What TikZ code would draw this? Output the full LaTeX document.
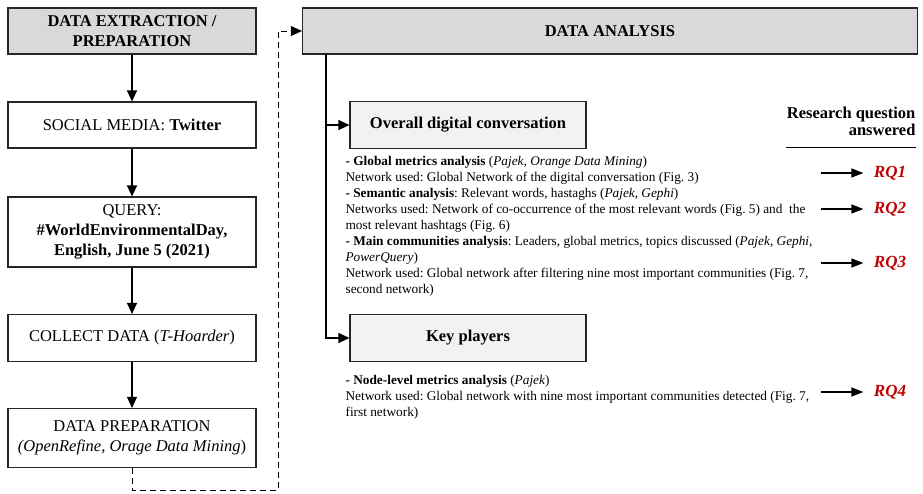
\documentclass[tikz,border=0pt]{standalone}
\usepackage{fontspec}
\setmainfont{Liberation Serif}
\usetikzlibrary{arrows.meta}
\definecolor{headgray}{HTML}{D9D9D9}
\definecolor{subgray}{HTML}{F2F2F2}
\definecolor{rqred}{HTML}{C00000}
\frenchspacing
\begin{document}
\begin{tikzpicture}[x=1pt,y=-1pt,line width=1.15pt,
  box/.style={draw=black!85,minimum width=248pt,align=center,inner sep=0pt,
    font=\fontsize{16.5}{20}\selectfont},
  headbox/.style={box,fill=headgray,font=\fontsize{16.5}{20}\selectfont\bfseries},
  subbox/.style={box,fill=subgray,minimum width=236pt,minimum height=47pt,
    font=\fontsize{16.5}{20}\selectfont\bfseries},
  bodytext/.style={anchor=north west,align=left,inner sep=0pt,
    font=\fontsize{13.3}{16}\selectfont},
  rq/.style={inner ysep=0pt,inner xsep=10pt,text=rqred,
    font=\fontsize{17}{20}\selectfont\bfseries\itshape},
  arr/.style={-{Triangle[length=11pt,width=10pt]}},
  rqarr/.style={line width=1.4pt,-{Triangle[length=12pt,width=9pt]}}]
\useasboundingbox (0,0) rectangle (923,493);
% left column
\path (132,31) node[headbox,minimum height=46pt](prep){DATA EXTRACTION /\\PREPARATION}
      (132,125) node[box,minimum height=46pt](social){SOCIAL MEDIA: \textbf{Twitter}}
      (132,232) node[box,minimum height=70pt](query){QUERY:\\\textbf{\#WorldEnvironmentalDay,}\\\textbf{English, June 5 (2021)}}
      (132,338) node[box,minimum height=47pt](collect){COLLECT DATA (\textit{T-Hoarder})}
      (132,438) node[box,minimum height=59pt](dataprep){DATA PREPARATION\\\textit{(OpenRefine, Orage Data Mining})};
\draw[arr] (prep) -- (social);
\draw[arr] (social) -- (query);
\draw[arr] (query) -- (collect);
\draw[arr] (collect) -- (dataprep);
% right column
\path (610,31) node[headbox,minimum width=615pt,minimum height=46pt](analysis){DATA ANALYSIS}
      (468,125) node[subbox](overall){Overall digital conversation}
      (468,338) node[subbox](keyplay){Key players};
\coordinate (turn) at (278,490);
\draw[arr,line width=1pt,dashed,dash pattern=on 6pt off 4pt] (dataprep.south) |- (turn) |- (analysis.west);
\coordinate (trunk) at (326,54);
\draw[arr] (trunk) |- (overall.west);
\draw[arr] (trunk) |- (keyplay.west);
% descriptions
\node[bodytext] (overtext) at (345,156) {\textbf{- Global metrics analysis} (\textit{Pajek, Orange Data Mining})\\
Network used: Global Network of the digital conversation (Fig. 3)\\
\textbf{- Semantic analysis}: Relevant words, hastaghs (\textit{Pajek, Gephi})\\
Networks used: Network of co-occurrence of the most relevant words (Fig. 5) and\ \ the\\
most relevant hashtags (Fig. 6)\\
\textbf{- Main communities analysis}: Leaders, global metrics, topics discussed (\textit{Pajek, Gephi,}\\
\textit{PowerQuery})\\
Network used: Global network after filtering nine most important communities (Fig. 7,\\
second network)};
\node[bodytext] (keytext) at (345,375) {\textbf{- Node-level metrics analysis} (\textit{Pajek})\\
Network used: Global network with nine most important communities detected (Fig. 7,\\
first network)};
% research questions
\node[anchor=north east,align=right,inner sep=0pt,
  font=\fontsize{16.5}{17.5}\selectfont\bfseries] (rqhead) at (916,106) {Research question\\answered};
\draw ([yshift=-11pt]rqhead.south west) -- ([yshift=-11pt]rqhead.south east);
\path (890,173) node[rq](rq1){RQ1}
      (890,209) node[rq](rq2){RQ2}
      (890,263) node[rq](rq3){RQ3}
      (890,392) node[rq](rq4){RQ4};
\coordinate (s1) at (821,173);
\coordinate (s2) at (821,209);
\coordinate (s3) at (821,263);
\coordinate (s4) at (821,392);
\draw[rqarr] (s1) -- (rq1);
\draw[rqarr] (s2) -- (rq2);
\draw[rqarr] (s3) -- (rq3);
\draw[rqarr] (s4) -- (rq4);
\end{tikzpicture}
\end{document}
